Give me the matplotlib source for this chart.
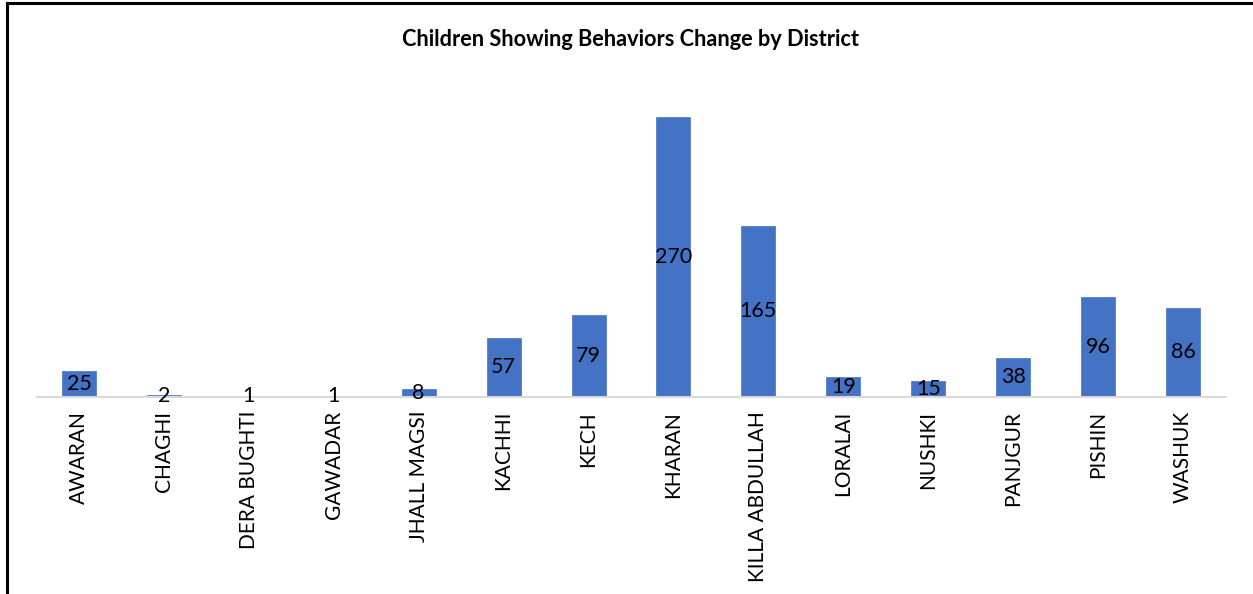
import matplotlib
matplotlib.use("Agg")
import matplotlib.pyplot as plt
from matplotlib.lines import Line2D

districts = ["AWARAN", "CHAGHI", "DERA BUGHTI", "GAWADAR", "JHALL MAGSI",
             "KACHHI", "KECH", "KHARAN", "KILLA ABDULLAH", "LORALAI",
             "NUSHKI", "PANJGUR", "PISHIN", "WASHUK"]
children = [25, 2, 1, 1, 8, 57, 79, 270, 165, 19, 15, 38, 96, 86]

W, H = 1253, 594
fig = plt.figure(figsize=(W / 100, H / 100), dpi=100)
plt.rcParams["font.family"] = ["Lato", "DejaVu Sans"]

# plot area in pixel coordinates
left, right, top, bottom = 36.5, 1225.5, 86, 397
ax = fig.add_axes([left / W, 1 - bottom / H, (right - left) / W, (bottom - top) / H])

x = range(len(districts))
ax.bar(x, children, width=0.4, color="#4472C4", edgecolor="#4472C4", linewidth=0.5)
ax.set_xlim(-0.5, len(districts) - 0.5)
ax.set_ylim(0, 300)

for xi, v in zip(x, children):
    ax.text(xi, v / 2, str(v), ha="center", va="center", fontsize=15.5, color="black")

ax.set_xticks(list(x))
ax.set_xticklabels(districts, rotation=90, fontsize=15, va="top")
ax.tick_params(axis="x", length=0, pad=10)
ax.set_yticks([])
for s in ["top", "right", "left"]:
    ax.spines[s].set_visible(False)
ax.spines["bottom"].set_color("#D9D9D9")
ax.spines["bottom"].set_linewidth(1.5)

fig.text(631 / W, 1 - 40 / H, "Children Showing Behaviors Change by District",
         ha="center", va="center", fontsize=15.7, fontweight="bold")

# outer frame (left and top edges)
fig.add_artist(Line2D([7 / W, 7 / W], [0, 1 - 3 / H], transform=fig.transFigure, color="black", linewidth=2.2))
fig.add_artist(Line2D([7 / W, 1], [1 - 3 / H, 1 - 3 / H], transform=fig.transFigure, color="black", linewidth=2.2))

fig.savefig("out.png", dpi=100)
